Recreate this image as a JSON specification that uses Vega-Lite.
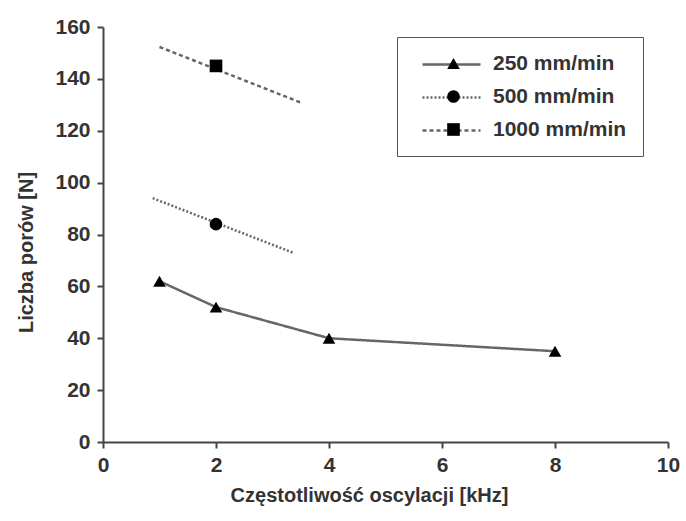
{
  "$schema": "https://vega.github.io/schema/vega-lite/v6.json",
  "width": 565,
  "height": 415,
  "autosize": {"type": "none"},
  "padding": {"left": 103, "top": 27, "right": 18, "bottom": 79},
  "background": "white",
  "config": {
    "view": {"stroke": null},
    "font": "Liberation Sans",
    "axis": {
      "labelFont": "Liberation Sans", "labelFontSize": 21, "labelFontWeight": "bold", "labelColor": "#333",
      "titleFont": "Liberation Sans", "titleFontSize": 20, "titleFontWeight": "bold", "titleColor": "#333",
      "domainColor": "#444", "domainWidth": 2, "tickColor": "#444", "tickWidth": 2, "tickSize": 6, "grid": false,
      "labelFlush": false, "labelOverlap": false
    },
    "legend": {"labelFont": "Liberation Sans", "labelFontSize": 21, "labelFontWeight": "bold", "labelColor": "#333"}
  },
  "datasets": {
    "lines": [
      {"seriesL": "250 mm/min", "x": 1, "y": 62},
      {"seriesL": "250 mm/min", "x": 2, "y": 52},
      {"seriesL": "250 mm/min", "x": 4, "y": 40},
      {"seriesL": "250 mm/min", "x": 8, "y": 35},
      {"seriesL": "500 mm/min", "x": 0.88, "y": 94},
      {"seriesL": "500 mm/min", "x": 3.36, "y": 73},
      {"seriesL": "1000 mm/min", "x": 1.0, "y": 152.3},
      {"seriesL": "1000 mm/min", "x": 3.52, "y": 130.7}
    ],
    "points": [
      {"series": "250 mm/min", "x": 1, "y": 62},
      {"series": "250 mm/min", "x": 2, "y": 52},
      {"series": "250 mm/min", "x": 4, "y": 40},
      {"series": "250 mm/min", "x": 8, "y": 35},
      {"series": "500 mm/min", "x": 2, "y": 84},
      {"series": "1000 mm/min", "x": 2, "y": 145}
    ]
  },
  "layer": [
    {
      "data": {"name": "lines"},
      "mark": {"type": "line", "color": "#666666", "strokeWidth": 2.5},
      "encoding": {
        "x": {"field": "x", "type": "quantitative", "scale": {"domain": [0, 10]},
              "axis": {"values": [0, 2, 4, 6, 8, 10], "format": "d", "title": "Częstotliwość oscylacji [kHz]", "labelPadding": 6, "titlePadding": 10, "titleX": 266}},
        "y": {"field": "y", "type": "quantitative", "scale": {"domain": [0, 160]},
              "axis": {"values": [0, 20, 40, 60, 80, 100, 120, 140, 160], "format": "d", "title": "Liczba porów [N]", "labelPadding": 7, "titlePadding": 18, "titleY": 225}},
        "strokeDash": {"field": "seriesL", "type": "nominal", "sort": ["250 mm/min", "500 mm/min", "1000 mm/min"],
          "scale": {"range": [[1, 0], [2, 2], [4, 3]]},
          "legend": {"title": null, "orient": "none", "legendX": 294, "legendY": 10, "padding": 16,
            "symbolType": "M-2.9,0L2.9,0", "symbolSize": 400, "symbolStrokeColor": "#666666", "symbolStrokeWidth": 2.5,
            "symbolOffset": 27, "labelExpr": "''", "rowPadding": 11}}
      }
    },
    {
      "data": {"name": "points"},
      "mark": {"type": "point", "filled": true, "color": "black", "size": 160, "opacity": 1},
      "encoding": {
        "x": {"field": "x", "type": "quantitative"},
        "y": {"field": "y", "type": "quantitative"},
        "shape": {"field": "series", "type": "nominal", "sort": ["250 mm/min", "500 mm/min", "1000 mm/min"],
          "scale": {"range": ["triangle-up", "circle", "square"]},
          "legend": {"title": null, "orient": "none", "legendX": 294, "legendY": 10, "padding": 16,
            "symbolSize": 160, "symbolFillColor": "black", "symbolStrokeColor": "black", "symbolOffset": 30, "labelOffset": 29,
            "labelExpr": "datum.label + '    '",
            "rowPadding": 11, "strokeColor": "#555",
            "encode": {"legend": {"update": {"strokeWidth": {"value": 2}}}}}}
      }
    }
  ]
}
